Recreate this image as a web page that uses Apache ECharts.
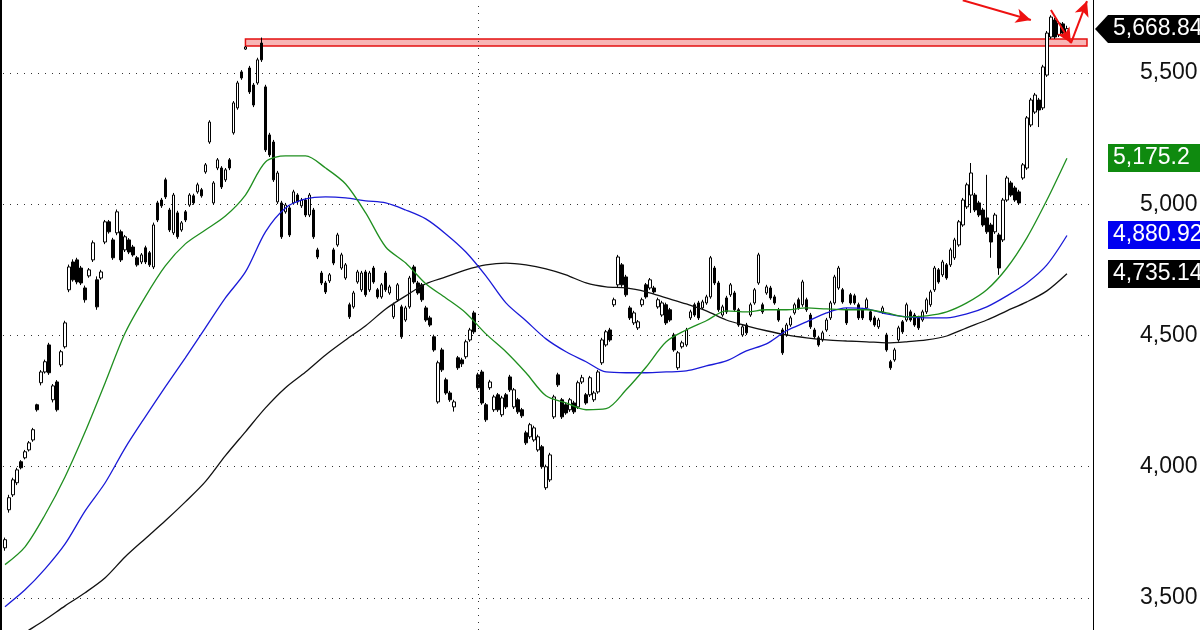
<!DOCTYPE html>
<html>
<head>
<meta charset="utf-8">
<style>
  html, body { margin: 0; padding: 0; background: #fff; }
  #chart { width: 1200px; height: 630px; }
</style>
<script src="https://cdn.jsdelivr.net/npm/echarts@6/dist/echarts.min.js"></script>
</head>
<body>
<div id="chart"></div>
<script>
// daily bars, [open, close, low, high]
const candles = [
  [3691,3722,3680,3730],[3836,3882,3825,3893],[3893,3950,3885,3958],[3939,3988,3930,3996],[4019,3996,3990,4025],
  [4034,4057,4028,4064],[4064,4091,4058,4098],[4102,4141,4095,4148],[4236,4217,4210,4240],[4320,4361,4310,4368],
  [4361,4400,4355,4408],[4464,4358,4350,4472],[4255,4308,4245,4315],[4323,4217,4210,4330],[4388,4438,4380,4445],
  [4457,4548,4450,4556],[4674,4761,4665,4770],[4780,4712,4705,4790],[4788,4704,4695,4796],[4757,4700,4692,4765],
  [4681,4636,4625,4690],[4727,4750,4720,4757],[4788,4853,4780,4862],[4712,4609,4598,4725],[4719,4742,4712,4750],
  [4856,4933,4848,4940],[4933,4895,4888,4940],[4864,4796,4788,4872],[4891,4971,4882,4980],[4895,4788,4780,4903],
  [4826,4876,4818,4883],[4864,4818,4810,4871],[4837,4807,4800,4845],[4796,4769,4762,4803],[4780,4807,4772,4814],
  [4834,4780,4772,4842],[4815,4769,4761,4822],[4761,4921,4753,4930],[5005,4940,4932,5013],[5016,4994,4986,5024],
  [5093,5028,5020,5101],[4978,4902,4894,4986],[4891,5035,4883,5043],[4967,4876,4868,4975],[4902,4929,4895,4936],
  [4971,4940,4932,4978],[4997,5035,4990,5042],[5032,5005,4998,5040],[5047,5074,5040,5082],[5055,5032,5025,5062],
  [5123,5150,5116,5157],[5237,5313,5230,5320],[5005,5081,4998,5088],[5138,5169,5130,5176],[5138,5066,5058,5145],
  [5093,5131,5085,5138],[5169,5138,5130,5176],[5272,5386,5265,5393],[5367,5462,5360,5470],[5504,5481,5474,5511],
  [5591,5599,5588,5602],[5519,5428,5420,5527],[5454,5378,5370,5462],[5462,5550,5455,5558],[5614,5550,5542,5635],
  [5447,5207,5199,5455],[5264,5188,5180,5272],[5237,5093,5085,5245],[5009,5119,5001,5127],[5005,4876,4868,5013],
  [4971,4997,4964,5005],[4986,4883,4875,4994],[5005,5047,4998,5055],[5035,5009,5001,5042],[4994,5016,4986,5024],
  [5016,4959,4951,5024],[4959,5035,4951,5043],[4978,4876,4868,4986],[4826,4799,4791,4834],[4738,4700,4692,4746],
  [4700,4666,4658,4708],[4708,4731,4700,4738],[4826,4776,4768,4834],[4845,4883,4838,4891],[4757,4807,4750,4815],
  [4719,4769,4712,4776],[4617,4571,4563,4625],[4609,4662,4602,4670],[4704,4742,4697,4750],[4674,4738,4666,4746],
  [4742,4655,4647,4750],[4674,4738,4666,4746],[4757,4704,4697,4765],[4674,4647,4640,4681],[4647,4693,4640,4700],
  [4738,4674,4666,4746],[4662,4685,4655,4693],[4571,4617,4563,4625],[4636,4693,4628,4700],[4609,4495,4487,4617],
  [4559,4605,4552,4613],[4609,4719,4602,4727],[4761,4704,4697,4769],[4700,4662,4655,4708],[4693,4636,4628,4700],
  [4605,4559,4552,4613],[4567,4540,4533,4575],[4495,4445,4438,4503],[4247,4396,4240,4404],[4445,4369,4361,4453],
  [4331,4281,4274,4339],[4281,4255,4247,4289],[4228,4247,4210,4255],[4415,4377,4369,4422],[4407,4392,4380,4415],
  [4419,4476,4411,4484],[4483,4521,4476,4529],[4586,4514,4506,4594],[4350,4301,4293,4358],[4361,4243,4236,4369],
  [4236,4179,4171,4243],[4301,4323,4293,4331],[4217,4266,4209,4274],[4274,4217,4209,4281],[4198,4262,4190,4270],
  [4274,4228,4220,4281],[4342,4293,4285,4350],[4228,4293,4220,4300],[4255,4209,4201,4262],[4217,4194,4186,4224],
  [4129,4091,4083,4137],[4114,4160,4106,4167],[4102,4148,4095,4156],[4064,4114,4057,4122],[4076,4000,3992,4083],
  [3920,4000,3912,4008],[3950,4045,3942,4053],[4190,4266,4182,4274],[4350,4312,4304,4358],[4255,4190,4182,4262],
  [4236,4205,4198,4243],[4217,4255,4209,4262],[4243,4209,4201,4251],[4228,4320,4220,4328],[4323,4339,4315,4350],
  [4274,4243,4236,4281],[4274,4339,4266,4346],[4255,4281,4247,4289],[4285,4361,4278,4369],[4396,4483,4388,4491],
  [4464,4514,4457,4521],[4521,4483,4476,4529],[4617,4636,4609,4644],[4693,4799,4685,4807],[4769,4693,4685,4776],
  [4723,4655,4647,4731],[4605,4567,4559,4613],[4548,4586,4540,4594],[4529,4552,4521,4559],[4617,4636,4609,4644],
  [4693,4647,4640,4700],[4681,4712,4674,4719],[4681,4666,4659,4689],[4609,4636,4602,4644],[4578,4624,4571,4632],
  [4617,4548,4540,4625],[4598,4559,4552,4605],[4502,4445,4438,4510],[4377,4434,4369,4441],[4457,4472,4450,4480],
  [4464,4521,4457,4529],[4567,4590,4559,4598],[4617,4578,4571,4625],[4624,4567,4559,4632],[4605,4628,4598,4636],
  [4624,4647,4617,4655],[4647,4796,4640,4803],[4757,4700,4692,4765],[4700,4598,4590,4708],[4578,4609,4571,4617],
  [4643,4590,4582,4651],[4655,4693,4647,4700],[4662,4598,4590,4670],[4598,4540,4533,4605],[4502,4533,4495,4540],
  [4540,4510,4502,4548],[4578,4617,4571,4625],[4624,4674,4617,4681],[4700,4807,4693,4815],[4617,4590,4582,4625],
  [4662,4685,4655,4693],[4681,4643,4636,4689],[4647,4624,4617,4655],[4598,4559,4552,4605],[4521,4434,4426,4529],
  [4502,4540,4495,4548],[4540,4567,4533,4575],[4586,4617,4579,4625],[4636,4605,4598,4644],[4617,4704,4609,4712],
  [4636,4598,4590,4644],[4578,4533,4525,4586],[4521,4495,4487,4529],[4491,4464,4457,4499],[4483,4510,4476,4518],
  [4521,4559,4514,4567],[4567,4624,4559,4632],[4624,4723,4617,4731],[4681,4757,4674,4765],[4674,4628,4621,4681],
  [4598,4548,4540,4605],[4655,4624,4617,4662],[4651,4624,4617,4659],[4617,4567,4559,4625],[4598,4567,4559,4605],
  [4605,4636,4598,4644],[4590,4559,4552,4598],[4567,4540,4533,4575],[4533,4559,4525,4567],[4590,4605,4582,4613],
  [4502,4445,4438,4510],[4400,4377,4369,4407],[4407,4445,4400,4453],[4483,4529,4476,4537],[4552,4514,4506,4559],
  [4559,4617,4552,4625],[4590,4559,4552,4598],[4578,4540,4533,4586],[4567,4529,4521,4575],[4559,4590,4552,4598],
  [4590,4636,4582,4644],[4617,4666,4609,4674],[4674,4757,4666,4765],[4750,4704,4697,4757],[4731,4780,4723,4788],
  [4769,4719,4712,4776],[4769,4826,4761,4834],[4796,4864,4788,4872],[4845,4933,4838,4940],[4921,5016,4914,5024],
  [4990,5074,4982,5082],[5035,5119,4967,5157],[5035,4978,4970,5043],[5005,4959,4951,5013],[4978,4921,4914,4986],
  [4948,4895,4887,5112],[4921,4856,4796,4929],[4895,4959,4887,4967],[4883,4757,4731,4891],[4864,5016,4856,5024],
  [5016,5100,5009,5108],[5081,5035,5028,5089],[5062,5016,5009,5070],[5047,5005,4997,5055],[5100,5150,5093,5157],
  [5138,5329,5131,5336],[5302,5397,5294,5405],[5351,5416,5344,5424],[5397,5359,5294,5405],[5367,5523,5359,5531],
  [5492,5652,5485,5660],[5637,5713,5630,5720],[5702,5637,5630,5710],[5645,5690,5637,5698],[5687,5652,5645,5694],
  [5652,5668.84,5645,5680]
]

// moving averages: [bar index, value]
const maGreen = [
  [0,3627],[5,3695],[10,3817],[15,3962],[20,4133],[25,4320],[30,4510],[35,4647],[40,4765],[45,4849],
  [50,4902],[55,4955],[60,5035],[65,5161],[70,5184],[75,5184],[80,5138],[85,5077],[90,4967],[95,4837],
  [100,4776],[105,4697],[110,4643],[115,4586],[120,4506],[125,4438],[130,4358],[135,4270],[140,4243],[145,4217],
  [150,4221],[155,4293],[160,4380],[165,4476],[170,4521],[175,4556],[180,4594],[185,4590],[190,4598],[195,4598],
  [200,4605],[205,4601],[210,4598],[215,4598],[220,4586],[225,4571],[230,4575],[235,4590],[240,4624],[245,4674],
  [250,4757],[255,4872],[260,5016],[265,5175.2]
]
const maBlue = [
  [0,3467],[5,3531],[10,3611],[15,3706],[20,3832],[25,3939],[30,4072],[35,4190],[40,4304],[45,4415],
  [50,4529],[55,4643],[60,4742],[65,4895],[70,4986],[75,5020],[80,5028],[85,5024],[90,5013],[95,5005],
  [100,4978],[105,4944],[110,4887],[115,4818],[120,4727],[125,4624],[130,4556],[135,4487],[140,4438],[145,4400],
  [150,4361],[155,4358],[160,4358],[165,4361],[170,4365],[175,4384],[180,4403],[185,4441],[190,4468],[195,4518],
  [200,4552],[205,4586],[210,4605],[215,4601],[220,4582],[225,4571],[230,4567],[235,4567],[240,4582],[245,4609],
  [250,4651],[255,4700],[260,4769],[265,4880.92]
]
const maBlack = [
  [0,3318],[5,3368],[10,3417],[15,3470],[20,3520],[25,3577],[30,3657],[35,3726],[40,3794],[45,3866],
  [50,3943],[55,4042],[60,4133],[65,4224],[70,4301],[75,4361],[80,4426],[85,4483],[90,4537],[95,4601],
  [100,4651],[105,4697],[110,4723],[115,4750],[120,4769],[125,4776],[130,4769],[135,4754],[140,4731],[145,4700],
  [150,4685],[155,4681],[160,4666],[165,4643],[170,4620],[175,4594],[180,4559],[185,4537],[190,4518],[195,4502],
  [200,4491],[205,4483],[210,4479],[215,4476],[220,4472],[225,4476],[230,4483],[235,4498],[240,4529],[245,4559],
  [250,4594],[255,4628],[260,4670],[265,4735.14]
]

const priceTicks = [3500, 4000, 4500, 5000, 5500]
const priceMin = 3378
const priceMax = 5778
const slotCount = 272          // bars plus empty room before the price axis
const days = Array.from({ length: slotCount }, (_, i) => String(i))
const dividerDay = 118
const zone = { from: 60, to: 270, top: 5629, bottom: 5603 }
// hand drawn red arrows, [bar index, price]
const arrows = [
  [[239, 5777], [256, 5702]],
  [[261, 5740], [266, 5614]],
  [[266, 5614], [270, 5774]]
]

const chart = echarts.init(document.getElementById('chart'))
const font = '"Liberation Sans", Arial, sans-serif'
const dotted = { color: '#333', type: [1, 6], width: 1 }

const option = {
  animation: false,
  backgroundColor: '#fff',
  grid: { left: 3, right: 107, top: 0, bottom: 0, outerBoundsMode: 'none' },
  xAxis: {
    type: 'category',
    data: days,
    boundaryGap: true,
    axisLine: { show: false },
    axisTick: { show: false },
    axisLabel: { show: false },
    splitLine: { show: false }
  },
  yAxis: [
    {
      type: 'value',
      position: 'right',
      min: priceMin,
      max: priceMax,
      axisLine: { show: true, lineStyle: { color: '#000', width: 1 } },
      axisTick: { show: false, customValues: priceTicks },
      axisLabel: {
        customValues: priceTicks,
        margin: 47,
        color: '#111',
        fontSize: 23,
        fontFamily: font,
        formatter: (v) => v.toLocaleString('en-US')
      },
      splitLine: { show: true, lineStyle: dotted }
    },
    {
      type: 'value',
      position: 'left',
      offset: 2,
      min: priceMin,
      max: priceMax,
      axisLine: { show: true, lineStyle: { color: '#000', width: 2 } },
      axisTick: { show: false },
      axisLabel: { show: false },
      splitLine: { show: false }
    }
  ],
  series: [
    {
      type: 'candlestick',
      data: candles,
      barWidth: 3,
      itemStyle: {
        color: '#fff',
        color0: '#000',
        borderColor: '#000',
        borderColor0: '#000',
        borderWidth: 1
      },
      markArea: {
        silent: true,
        itemStyle: { color: 'rgba(242,120,120,0.55)', borderColor: '#e31010', borderWidth: 1.5 },
        data: [[
          { xAxis: days[zone.from], yAxis: zone.top },
          { xAxis: days[zone.to], yAxis: zone.bottom }
        ]]
      },
      markLine: {
        silent: true,
        symbol: ['none', 'arrow'],
        symbolSize: [11, 15],
        label: { show: false },
        lineStyle: { color: '#ee1111', width: 2, type: 'solid' },
        data: arrows.map(([a, b]) => [
          { coord: [days[a[0]], a[1]] },
          { coord: [days[b[0]], b[1]] }
        ])
      }
    },
    {
      type: 'line', data: maBlack, showSymbol: false, smooth: 0.3,
      lineStyle: { color: '#111', width: 1.3 },
      // vertical dotted divider
      markLine: {
        silent: true,
        symbol: 'none',
        label: { show: false },
        lineStyle: dotted,
        data: [{ xAxis: days[dividerDay] }]
      }
    },
    {
      type: 'line', data: maBlue, showSymbol: false, smooth: 0.3,
      lineStyle: { color: '#1a1ad8', width: 1.3 }
    },
    {
      type: 'line', data: maGreen, showSymbol: false, smooth: 0.3,
      lineStyle: { color: '#1f8f1f', width: 1.3 }
    }
  ]
}
chart.setOption(option)

// value tags on the price scale
const fmt = (v) => v.toLocaleString('en-US', { maximumFractionDigits: 2 })
const tags = [
  { value: candles[candles.length - 1][1], color: '#000', pointer: true },
  { value: maGreen[maGreen.length - 1][1], color: '#0f8a0f' },
  { value: maBlue[maBlue.length - 1][1], color: '#0000f0' },
  { value: maBlack[maBlack.length - 1][1], color: '#000' }
]
const graphics = tags.map((t) => {
  const y = Math.round(chart.convertToPixel({ yAxisIndex: 0 }, t.value))
  const points = t.pointer
    ? [[1095, y], [1108, y - 14], [1210, y - 14], [1210, y + 14], [1108, y + 14]]
    : [[1108, y - 14], [1210, y - 14], [1210, y + 14], [1108, y + 14]]
  return {
    type: 'group',
    children: [
      { type: 'polygon', shape: { points: points }, style: { fill: t.color } },
      {
        type: 'text', x: 1113, y: y,
        style: { text: fmt(t.value), fill: '#fff', fontSize: 23, fontFamily: font, verticalAlign: 'middle' }
      }
    ]
  }
})
chart.setOption({ graphic: graphics })
</script>
</body>
</html>
